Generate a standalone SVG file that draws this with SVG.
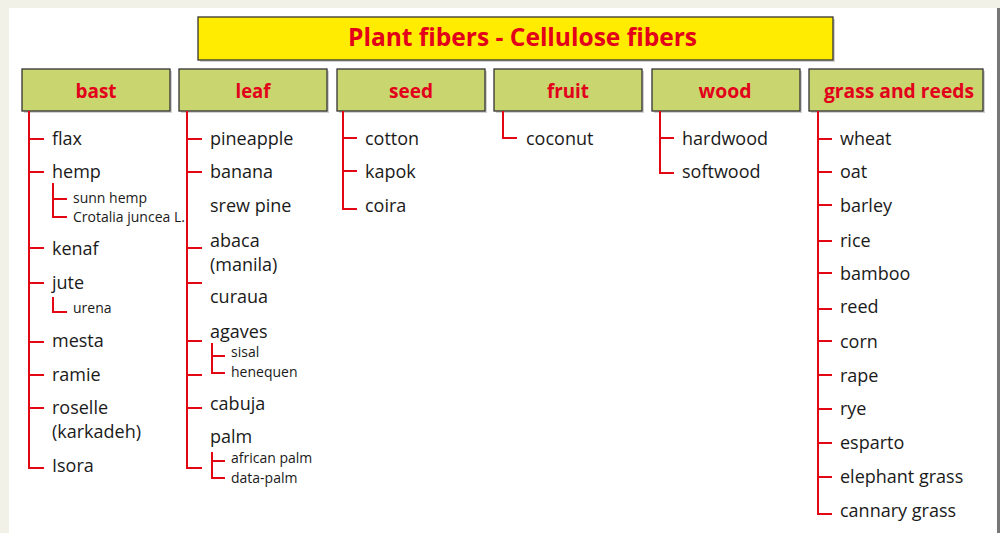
<svg xmlns="http://www.w3.org/2000/svg" width="1000" height="533" viewBox="0 0 1000 533">
<defs>
<style>
.hdr{fill:#c9d56f;stroke:#333;stroke-width:1.3}
.ttl{fill:#ffec00;stroke:#333;stroke-width:1.3}
.ht{font-family:"Open Sans","Liberation Sans",sans-serif;font-weight:bold;font-size:19px;fill:#e2001a;text-anchor:middle}
.tt{font-family:"Open Sans","Liberation Sans",sans-serif;font-weight:bold;font-size:25px;fill:#e2001a}
.it{font-family:"Open Sans","Liberation Sans",sans-serif;font-size:18px;fill:#1a1a1a}
.sb{font-family:"Open Sans","Liberation Sans",sans-serif;font-size:14px;fill:#1a1a1a}
.ln{fill:none;stroke:#e30613;stroke-width:2}
.sh{fill:#000;opacity:0.18}
</style>
</defs>
<rect x="0" y="0" width="1000" height="533" fill="#f1f1e8"/>
<rect x="9" y="8" width="988" height="525" fill="#ffffff"/>
<rect x="997" y="8" width="3" height="525" fill="#777"/>

<g id="title">
<rect class="sh" x="200" y="19" width="635" height="43"/>
<rect class="ttl" x="198" y="17" width="635" height="43"/>
<text class="tt" x="348" y="46" textLength="349" lengthAdjust="spacingAndGlyphs">Plant fibers - Cellulose fibers</text>
</g>

<g id="h-bast"><rect class="sh" x="24" y="71" width="148" height="42"/><rect class="hdr" x="22" y="69" width="148" height="42"/><text class="ht" x="96" y="98" textLength="41" lengthAdjust="spacingAndGlyphs">bast</text></g>
<g id="h-leaf"><rect class="sh" x="181" y="71" width="148" height="42"/><rect class="hdr" x="179" y="69" width="148" height="42"/><text class="ht" x="253" y="98" textLength="35" lengthAdjust="spacingAndGlyphs">leaf</text></g>
<g id="h-seed"><rect class="sh" x="339" y="71" width="148" height="42"/><rect class="hdr" x="337" y="69" width="148" height="42"/><text class="ht" x="411" y="98" textLength="44" lengthAdjust="spacingAndGlyphs">seed</text></g>
<g id="h-fruit"><rect class="sh" x="496" y="71" width="148" height="42"/><rect class="hdr" x="494" y="69" width="148" height="42"/><text class="ht" x="568" y="98" textLength="42" lengthAdjust="spacingAndGlyphs">fruit</text></g>
<g id="h-wood"><rect class="sh" x="654" y="71" width="148" height="42"/><rect class="hdr" x="652" y="69" width="148" height="42"/><text class="ht" x="725" y="98" textLength="53" lengthAdjust="spacingAndGlyphs">wood</text></g>
<g id="h-grass"><rect class="sh" x="811" y="71" width="174" height="42"/><rect class="hdr" x="809" y="69" width="174" height="42"/><text class="ht" x="899" y="98" textLength="150" lengthAdjust="spacingAndGlyphs">grass and reeds</text></g>

<g id="connectors">
<!-- bast -->
<path class="ln" d="M29 111 V468 H44 M29 139 H44 M29 172 H44 M29 248 H44 M29 283 H44 M29 342 H44 M29 375 H44 M29 408 H44"/>
<path class="ln" d="M53 183 V217 H67 M53 199 H67"/>
<path class="ln" d="M53 297 V312 H67"/>
<!-- leaf -->
<path class="ln" d="M187 111 V468 H202 M187 139 H202 M187 172 H202 M187 248 H202 M187 283 H202 M187 341 H202 M187 375 H202 M187 408 H202"/>
<path class="ln" d="M212 343 V373 H225 M212 356 H225"/>
<path class="ln" d="M212 452 V478 H225 M212 461 H225"/>
<!-- seed -->
<path class="ln" d="M343 111 V209 H357 M343 138 H357 M343 171 H357"/>
<!-- fruit -->
<path class="ln" d="M503 111 V138 H517"/>
<!-- wood -->
<path class="ln" d="M660 111 V173 H674 M660 138 H674"/>
<!-- grass -->
<path class="ln" d="M818 111 V514 H832 M818 139 H832 M818 172 H832 M818 205 H832 M818 241 H832 M818 273 H832 M818 309 H832 M818 341 H832 M818 375 H832 M818 409 H832 M818 443 H832 M818 477 H832"/>
</g>

<!-- bast items -->
<g id="n-flax"><text class="it" x="52" y="145">flax</text></g>
<g id="n-hemp"><text class="it" x="52" y="178">hemp</text></g>
<g id="n-sunn-hemp"><text class="sb" x="73" y="203">sunn hemp</text></g>
<g id="n-crotalia"><text class="sb" x="73" y="222">Crotalia juncea L.</text></g>
<g id="n-kenaf"><text class="it" x="52" y="255">kenaf</text></g>
<g id="n-jute"><text class="it" x="52" y="289">jute</text></g>
<g id="n-urena"><text class="sb" x="73" y="313">urena</text></g>
<g id="n-mesta"><text class="it" x="52" y="347">mesta</text></g>
<g id="n-ramie"><text class="it" x="52" y="381">ramie</text></g>
<g id="n-roselle"><text class="it" x="52" y="414">roselle</text><text class="it" x="52" y="438">(karkadeh)</text></g>
<g id="n-isora"><text class="it" x="52" y="472">Isora</text></g>

<!-- leaf items -->
<g id="n-pineapple"><text class="it" x="210" y="145">pineapple</text></g>
<g id="n-banana"><text class="it" x="210" y="178">banana</text></g>
<g id="n-srew-pine"><text class="it" x="210" y="212">srew pine</text></g>
<g id="n-abaca"><text class="it" x="210" y="247">abaca</text><text class="it" x="210" y="271">(manila)</text></g>
<g id="n-curaua"><text class="it" x="210" y="303">curaua</text></g>
<g id="n-agaves"><text class="it" x="210" y="338">agaves</text></g>
<g id="n-sisal"><text class="sb" x="231" y="357">sisal</text></g>
<g id="n-henequen"><text class="sb" x="231" y="377">henequen</text></g>
<g id="n-cabuja"><text class="it" x="210" y="410">cabuja</text></g>
<g id="n-palm"><text class="it" x="210" y="443">palm</text></g>
<g id="n-african-palm"><text class="sb" x="231" y="463">african palm</text></g>
<g id="n-data-palm"><text class="sb" x="231" y="483">data-palm</text></g>

<!-- seed items -->
<g id="n-cotton"><text class="it" x="365" y="145">cotton</text></g>
<g id="n-kapok"><text class="it" x="365" y="178">kapok</text></g>
<g id="n-coira"><text class="it" x="365" y="212">coira</text></g>

<!-- fruit -->
<g id="n-coconut"><text class="it" x="526" y="145">coconut</text></g>

<!-- wood -->
<g id="n-hardwood"><text class="it" x="682" y="145">hardwood</text></g>
<g id="n-softwood"><text class="it" x="682" y="178">softwood</text></g>

<!-- grass -->
<g id="n-wheat"><text class="it" x="840" y="145">wheat</text></g>
<g id="n-oat"><text class="it" x="840" y="178">oat</text></g>
<g id="n-barley"><text class="it" x="840" y="212">barley</text></g>
<g id="n-rice"><text class="it" x="840" y="247">rice</text></g>
<g id="n-bamboo"><text class="it" x="840" y="280">bamboo</text></g>
<g id="n-reed"><text class="it" x="840" y="313">reed</text></g>
<g id="n-corn"><text class="it" x="840" y="348">corn</text></g>
<g id="n-rape"><text class="it" x="840" y="382">rape</text></g>
<g id="n-rye"><text class="it" x="840" y="415">rye</text></g>
<g id="n-esparto"><text class="it" x="840" y="449">esparto</text></g>
<g id="n-elephant-grass"><text class="it" x="840" y="483">elephant grass</text></g>
<g id="n-cannary-grass"><text class="it" x="840" y="517">cannary grass</text></g>
</svg>
